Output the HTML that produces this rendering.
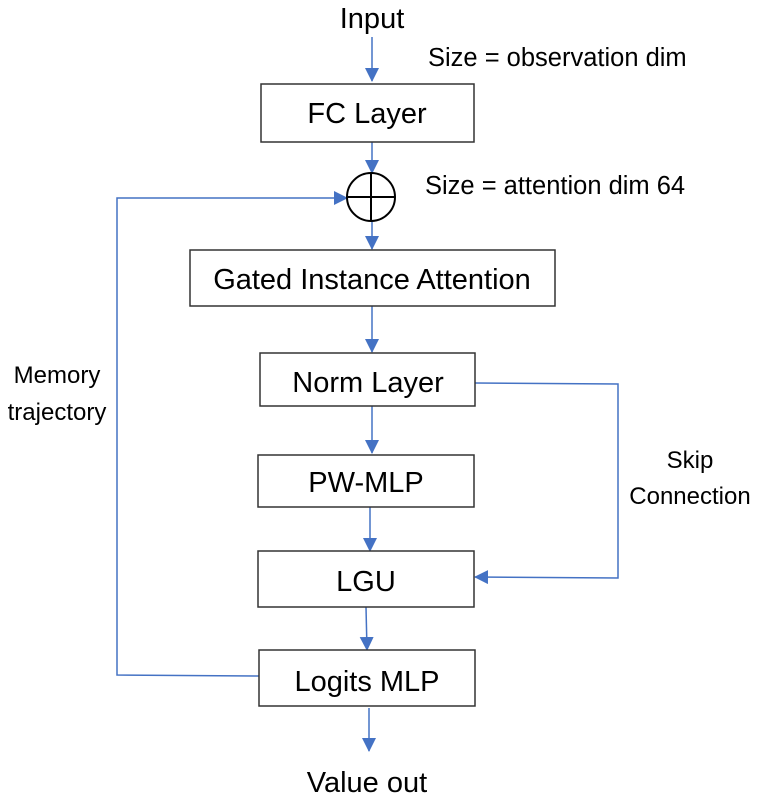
<!DOCTYPE html>
<html><head><style>
body{margin:0;background:#fff;}
svg{display:block;}
text{font-family:"Liberation Sans",Arial,sans-serif;fill:#000;}
</style></head><body>
<svg width="762" height="805" viewBox="0 0 762 805">
<defs>
<marker id="a" markerWidth="14" markerHeight="14" refX="13" refY="7" orient="auto" markerUnits="userSpaceOnUse">
<path d="M0,0 L14,7 L0,14 z" fill="#4472c4"/>
</marker>
</defs>
<g stroke="#4472c4" stroke-width="1.5" fill="none">
<line x1="372" y1="37" x2="372" y2="81" marker-end="url(#a)"/>
<line x1="372" y1="142" x2="372" y2="173" marker-end="url(#a)"/>
<line x1="372" y1="221" x2="372" y2="249" marker-end="url(#a)"/>
<line x1="372" y1="306" x2="372" y2="352" marker-end="url(#a)"/>
<line x1="372" y1="406" x2="372" y2="453" marker-end="url(#a)"/>
<line x1="370" y1="507" x2="370" y2="551" marker-end="url(#a)"/>
<line x1="366" y1="607" x2="367" y2="650" marker-end="url(#a)"/>
<line x1="369" y1="708" x2="369" y2="751" marker-end="url(#a)"/>
<polyline points="259,676 117,675 117,198 347,198" marker-end="url(#a)"/>
<polyline points="475,383 618,384 618,578 475,577" marker-end="url(#a)"/>
</g>
<g stroke="#333" stroke-width="1.5" fill="#fff">
<rect x="261" y="84" width="213" height="58"/>
<rect x="190" y="250" width="365" height="56"/>
<rect x="260" y="353" width="215" height="53"/>
<rect x="258" y="455" width="216" height="52"/>
<rect x="258" y="551" width="216" height="56"/>
<rect x="259" y="650" width="216" height="56"/>
</g>
<g stroke="#000" stroke-width="2" fill="none">
<circle cx="371" cy="197" r="24"/>
<line x1="371" y1="173" x2="371" y2="221"/>
<line x1="347" y1="197" x2="395" y2="197"/>
</g>
<g font-size="29" text-anchor="middle">
<text x="372" y="28">Input</text>
<text x="367" y="123">FC Layer</text>
<text x="372" y="289">Gated Instance Attention</text>
<text x="368" y="392">Norm Layer</text>
<text x="366" y="492">PW-MLP</text>
<text x="366" y="591">LGU</text>
<text x="367" y="691">Logits MLP</text>
<text x="367" y="792">Value out</text>
</g>
<g font-size="24">
<text x="428" y="66" font-size="25.5">Size = observation dim</text>
<text x="425" y="194" font-size="25.5">Size = attention dim 64</text>
<text x="57" y="383" text-anchor="middle">Memory</text>
<text x="57" y="420" text-anchor="middle">trajectory</text>
<text x="690" y="468" text-anchor="middle">Skip</text>
<text x="690" y="504" text-anchor="middle">Connection</text>
</g>
</svg>
</body></html>
